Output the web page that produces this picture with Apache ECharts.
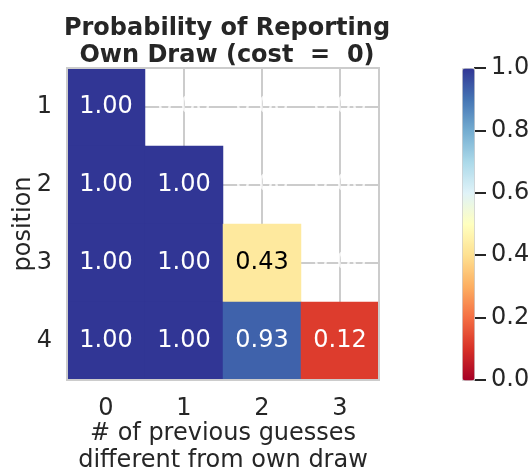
<!DOCTYPE html>
<html>
<head>
<meta charset="utf-8">
<script src="https://cdn.jsdelivr.net/npm/echarts@6/dist/echarts.min.js"></script>
<style>
html,body{margin:0;padding:0;background:#fff;}
#chart{width:528px;height:469px;}
</style>
</head>
<body>
<div id="chart"></div>
<script>
// ---- data ----
const xCategories = ['0', '1', '2', '3'];
const yCategories = ['1', '2', '3', '4'];
// lower-triangular probabilities per row (position); null = masked
const row1 = [1.00, null, null, null];
const row2 = [1.00, 1.00, null, null];
const row3 = [1.00, 1.00, 0.43, null];
const row4 = [1.00, 1.00, 0.93, 0.12];
const colorbarTicks = [0.0, 0.2, 0.4, 0.6, 0.8, 1.0];
const rdylbu = ['#a50026','#d73027','#f46d43','#fdae61','#fee090','#ffffbf','#e0f3f8','#abd9e9','#74add1','#4575b4','#313695'];

const rows = [row1, row2, row3, row4];
const cellData = [];
const maskedData = [];
rows.forEach((row, yi) => {
  row.forEach((v, xi) => {
    if (v === null) {
      maskedData.push([xi, yi]);
    } else {
      const light = v > 0.25 && v < 0.75;
      cellData.push({ value: [xi, yi, v], label: { color: light ? '#000000' : '#ffffff' } });
    }
  });
});

const FONT = 'DejaVu Sans';
const FS = 24;
const TXT = '#262626';
const G = { left: 67, top: 68, width: 312, height: 312, outerBoundsMode: 'none', containLabel: false };

const chart = echarts.init(document.getElementById('chart'), null, { renderer: 'canvas' });
chart.setOption({
  animation: false,
  textStyle: { fontFamily: FONT },
  title: {
    text: 'Probability of Reporting\nOwn Draw (cost  =  0)',
    left: 222, top: 10,
    textAlign: 'center',
    textStyle: { fontFamily: FONT, fontSize: FS, fontWeight: 'bold', color: TXT, lineHeight: 27 }
  },
  grid: [
    Object.assign({ show: true, borderColor: '#cccccc', borderWidth: 2, backgroundColor: 'transparent', z: 5 }, G),
    Object.assign({ show: false }, G),
    { left: 462, top: 68, width: 12, height: 312, show: false, outerBoundsMode: 'none', containLabel: false }
  ],
  xAxis: [
    {
      type: 'category', gridIndex: 0, data: xCategories,
      name: '# of previous guesses\ndifferent from own draw',
      nameLocation: 'middle', nameGap: 40, nameMoveOverlap: false,
      nameTextStyle: { fontFamily: FONT, fontSize: FS, color: TXT, lineHeight: 27 },
      axisLine: { show: false }, axisTick: { show: false }, splitLine: { show: false },
      axisLabel: { fontFamily: FONT, fontSize: FS, color: TXT, margin: 17 }
    },
    {
      type: 'value', gridIndex: 1, min: -0.5, max: 3.5, splitNumber: 4,
      axisLine: { show: false }, axisTick: { show: false }, axisLabel: { show: false },
      splitLine: { show: true, showMinLine: false, showMaxLine: false, lineStyle: { color: '#cccccc', width: 2 } }
    },
    {
      type: 'category', gridIndex: 2, data: ['cb'], show: false
    }
  ],
  yAxis: [
    {
      type: 'category', gridIndex: 0, data: yCategories, inverse: true,
      name: 'position', nameLocation: 'middle', nameGap: 31, nameMoveOverlap: false,
      nameTextStyle: { fontFamily: FONT, fontSize: FS, color: TXT },
      axisLine: { show: false }, axisTick: { show: false }, splitLine: { show: false },
      axisLabel: { fontFamily: FONT, fontSize: FS, color: TXT, margin: 15 }
    },
    {
      type: 'value', gridIndex: 1, min: -0.5, max: 3.5, splitNumber: 4, inverse: true,
      axisLine: { show: false }, axisTick: { show: false }, axisLabel: { show: false },
      splitLine: { show: true, showMinLine: false, showMaxLine: false, lineStyle: { color: '#cccccc', width: 2 } }
    },
    {
      type: 'value', gridIndex: 2, min: 0, max: 1, interval: 0.2, position: 'right',
      axisLine: { show: false }, splitLine: { show: false },
      axisTick: { show: true, length: 12, lineStyle: { color: TXT, width: 2 } },
      axisLabel: { fontFamily: FONT, fontSize: FS, color: TXT, margin: 17,
        formatter: v => (colorbarTicks.some(t => Math.abs(t - v) < 1e-9) ? v.toFixed(1) : '') }
    }
  ],
  visualMap: {
    type: 'continuous', min: 0, max: 1, seriesIndex: 0,
    orient: 'vertical', left: 462, top: 68, itemWidth: 12, itemHeight: 312,
    padding: 0, text: null, showLabel: false, calculable: false, hoverLink: false,
    borderColor: '#cccccc', borderWidth: 1,
    inRange: { color: rdylbu }
  },
  series: [
    {
      type: 'heatmap', xAxisIndex: 0, yAxisIndex: 0, data: cellData, z: 2,
      label: { show: true, fontFamily: FONT, fontSize: FS, formatter: p => p.value[2].toFixed(2) },
      emphasis: { disabled: true }
    },
    {
      type: 'scatter', xAxisIndex: 0, yAxisIndex: 0, data: maskedData, symbolSize: 0, z: 3,
      label: { show: true, position: 'inside', color: '#ffffff', fontFamily: FONT, fontSize: FS, formatter: () => '0.00' },
      silent: true
    }
  ]
});
</script>
</body>
</html>
